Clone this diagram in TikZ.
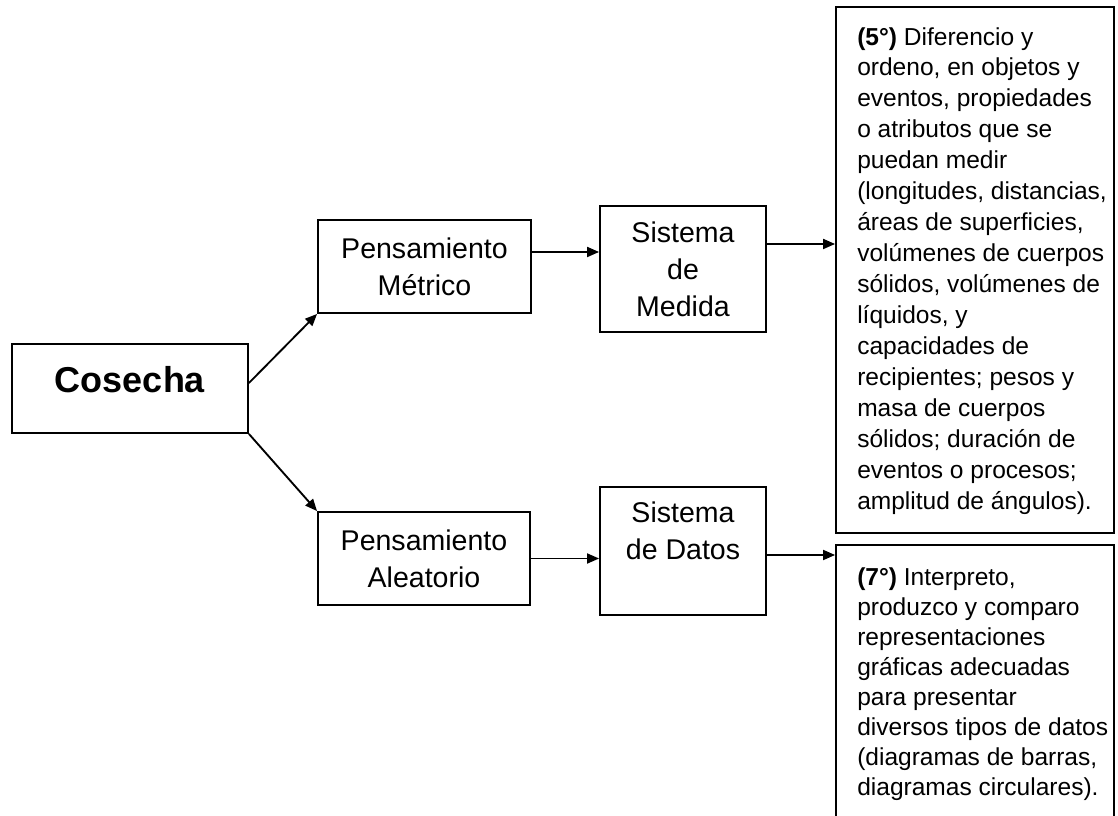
\documentclass[tikz,border=0pt]{standalone}
\usepackage{fontspec}
\setmainfont{Liberation Sans}
\usetikzlibrary{arrows.meta,calc}
\begin{document}
\begin{tikzpicture}[x=0.75pt,y=-0.75pt,
  box/.style={draw,line width=1.4pt,rectangle,inner sep=0pt},
  lbl/.style={align=center,inner sep=0pt,font=\fontsize{21.4}{27.75}\selectfont},
  desc/.style={align=left,inner sep=0pt,anchor=north west},
  link/.style={line width=1.4pt,-{Triangle[length=9pt,width=7.5pt]}}]
\useasboundingbox (0,0) rectangle (1118,816);
\clip (0,0) rectangle (1118,816);
\fill[white] (0,0) rectangle (1118,816);

% root
\node[box,minimum width=177pt,minimum height=66.75pt] (cos) at (130,388.5) {};
\node[inner sep=0pt,font=\bfseries\fontsize{27}{30}\selectfont] (costext) at (130,380) {Cosecha};

% thinking branches
\node[box,lbl,minimum width=159.75pt,minimum height=69.75pt] (pm) at (424.5,266.5) {Pensamiento\\Métrico};
\node[box,lbl,minimum width=159pt,minimum height=69.75pt] (pa) at (424,558.5) {Pensamiento\\Aleatorio};

% systems
\node[box,lbl,minimum width=124.5pt,minimum height=94.5pt] (sm) at (683,269) {Sistema\\de\\Medida};
\node[box,minimum width=124.5pt,minimum height=96pt] (sd) at (683,551) {};
\node[lbl] (sdtext) at (683,530.5) {Sistema\\de Datos};

% standards
\node[box,minimum width=208.5pt,minimum height=394.5pt] (d5) at (975,270) {};
\node[desc,font=\fontsize{18.4}{23.2}\selectfont] (d5text) at (857,27) {%
\textbf{(5°)} Diferencio y\\
ordeno, en objetos y\\
eventos, propiedades\\
o atributos que se\\
puedan medir\\
(longitudes, distancias,\\
áreas de superficies,\\
volúmenes de cuerpos\\
sólidos, volúmenes de\\
líquidos, y\\
capacidades de\\
recipientes; pesos y\\
masa de cuerpos\\
sólidos; duración de\\
eventos o procesos;\\
amplitud de ángulos).};

\node[box,minimum width=208.5pt,minimum height=221.25pt] (d7) at (975,692.5) {};
\node[desc,font=\fontsize{18.4}{22.5}\selectfont] (d7text) at (857,567) {%
\textbf{(7°)} Interpreto,\\
produzco y comparo\\
representaciones\\
gráficas adecuadas\\
para presentar\\
diversos tipos de datos\\
(diagramas de barras,\\
diagramas circulares).};

% connectors
\coordinate (cosout) at ($(cos.east)+(0,-5.5)$);
\draw[link] (cosout) -- (pm.south west);
\draw[link] (cos.south east) -- (pa.north west);

\coordinate (pmout) at ($(pm.east)+(0,-14.5)$);
\draw[link] (pmout) -- (pmout -| sm.west);
\coordinate (smout) at ($(sm.east)+(0,-25)$);
\draw[link] (smout) -- (smout -| d5.west);

\draw[link] (pa.east) -- (pa.east -| sd.west);
\coordinate (sdout) at ($(sd.east)+(0,4)$);
\draw[link] (sdout) -- (sdout -| d7.west);
\end{tikzpicture}
\end{document}
